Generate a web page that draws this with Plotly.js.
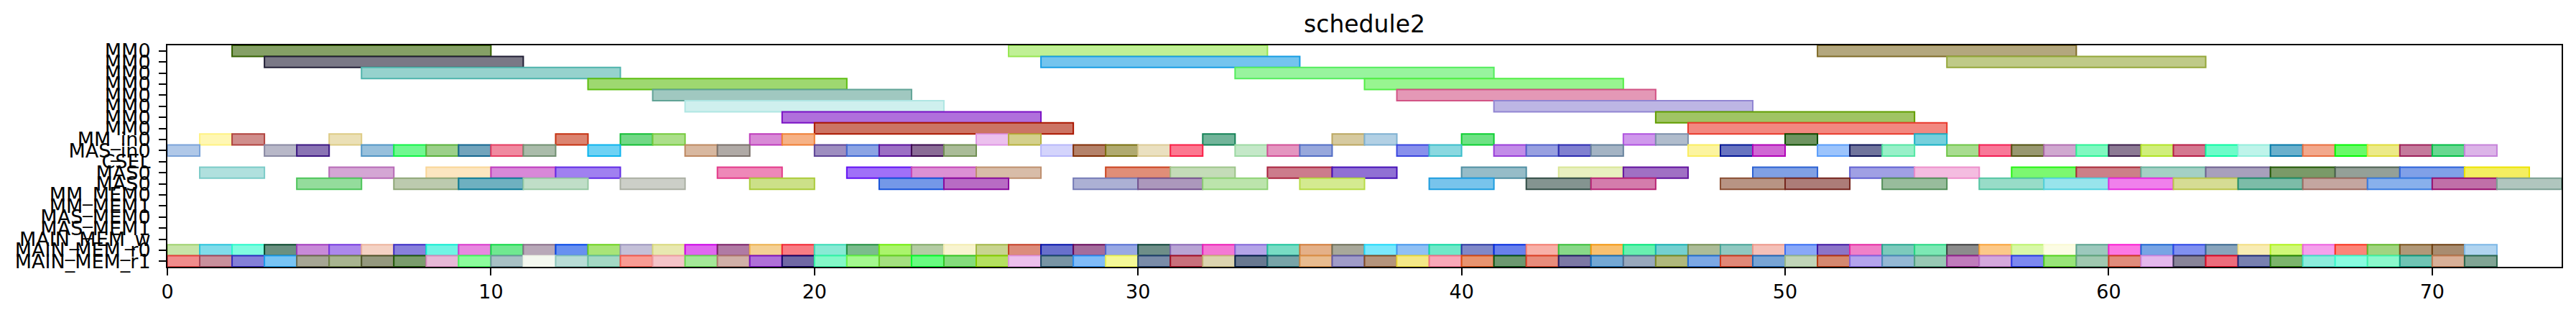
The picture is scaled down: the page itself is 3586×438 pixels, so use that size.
<!DOCTYPE html>
<html>
<head>
<meta charset="utf-8">
<script src="https://cdn.plot.ly/plotly-3.0.1.min.js"></script>
<style>html,body{margin:0;padding:0;background:#fff;}#chart{width:3586px;height:438px;}</style>
</head>
<body>
<div id="chart"></div>
<script>
// ---- row labels (top to bottom) ----
const rowLabels = ['MM0','MM0','MM0','MM0','MM0','MM0','MM0','MM0','MM_in0','MAS_in0','CSEL','MAS0','MAS0',
  'MM_MEM0','MM_MEM1','MAS_MEM0','MAS_MEM1','MAIN_MEM_w','MAIN_MEM_r0','MAIN_MEM_r1'];
const xTicks = [0,10,20,30,40,50,60,70];

// ---- MM0 tasks ----
const mm0Row   = [0,0,0, 1,1,1, 2,2, 3,3, 4,4, 5,5, 6,6, 7,7];
const mm0Start = [2,26,51, 3,27,55, 6,33, 13,37, 15,38, 16,41, 19,46, 20,47];
const mm0End   = [10,34,59, 11,35,63, 14,41, 21,45, 23,46, 24,49, 27,54, 28,55];
const mm0Color = ['#85a066','#c0f096','#b3a77e','#7a7886','#74c4ee','#bfca88','#96d2cd','#98f49e',
  '#9ed870','#98f590','#a0c8c0','#e498b6','#cff0ee','#bdb6e4','#b070dc','#a0c464','#cc7464','#f28880'];

// ---- MM_in0 (row 8) ----
const mmInStart = [1,2,5,12,14,15,18,19,25,26,32,36,37,40,45,46,50,54];
const mmInEnd   = [2,3,6,13,15,16,19,20,26,27,33,37,38,41,46,47,51,55];
const mmInColor = ['#fff7b4','#d08e8c','#ebe0b6','#dc8470','#72d886','#acdf8a','#d88ad6','#f6b286','#ecc0ee',
  '#d4d08c','#72b49a','#d6caa0','#b2d0e4','#6ee284','#cf98ec','#b0bccc','#6e9460','#76d0dc'];

// ---- MAS_in0 (row 9) ----
const masInStart = [0,3,4,6,7,8,9,10,11,13,16,17,20,21,22,23,24,27,28,29,30,31,33,34,35,38,39,41,42,43,44,
  47,48,49,51,52,53,55,56,57,58,59,60,61,62,63,64,65,66,67,68,69,70,71];
const masInEnd   = [1,4,5,7,8,9,10,11,12,14,17,18,21,22,23,24,25,28,29,30,31,32,34,35,36,39,40,42,43,44,45,
  48,49,50,52,53,54,56,57,58,59,60,61,62,63,64,65,66,67,68,69,70,71,72];
const masInColor = ['#b0c8e8','#b8b8c8','#8a74b4','#98c0dc','#70f890','#9cd08a','#72a4bc','#f08aa0','#aabcaa',
  '#6ed2f4','#d8b8a0','#b0aaa6','#9e8ec0','#8ca4e4','#9c70c4','#8a6c96','#aabc98','#d4d4fc','#b4826a','#b0aa70',
  '#eae0c0','#fc7890','#c4e8c8','#e496c0','#98a8dc','#8890ec','#8ad8e0','#c28ce8','#98a0e0','#8080d0','#a4b4c4',
  '#fcf4a0','#6874c0','#d068d4','#9cc4fc','#70749c','#98f0c8','#a8dc90','#f87898','#989870','#d0a8d0','#80f8c0',
  '#8c7a94','#d0ee7c','#d47890','#6cfcc8','#bef4ea','#6ab0cc','#f2a88c','#68fa68','#ecea88','#c47a9c','#68d890','#dcb4e8'];

// ---- MAS0 first row (row 11) ----
const mas0aStart = [1,5,8,10,12,17,21,23,25,29,31,34,36,40,43,45,49,52,54,57,59,61,63,65,67,69,71];
const mas0aEnd   = [3,7,10,12,14,19,23,25,27,31,33,36,38,42,45,47,51,54,56,59,61,63,65,67,69,71,73];
const mas0aColor = ['#b0e0de','#d4a6d4','#fce6c0','#d888d8','#a080f0','#ee88b8','#a070f8','#dc90d4','#d8bca8',
  '#e08e78','#c4dcb8','#cc7c8c','#9070d4','#96bcc8','#e8f0c0','#a070c4','#80a0e4','#a0a0e4','#f4bce0','#7cf870',
  '#cc8088','#a4d0c4','#a8a0bc','#7a9a68','#94a098','#80a0e8','#f4ee60'];

// ---- MAS0 second row (row 12) ----
const mas0bStart = [4,7,9,11,14,18,22,24,28,30,32,35,39,42,44,48,50,53,56,58,60,62,64,66,68,70,72];
const mas0bEnd   = [6,9,11,13,16,20,24,26,30,32,34,37,41,44,46,50,52,55,58,60,62,64,66,68,70,72,74];
const mas0bColor = ['#94dc9c','#bccaae','#6eb0c0','#c0dec8','#cccfc8','#cce088','#7498e8','#b86cc4','#acb0d4',
  '#ac98bc','#bce4ac','#d4ea90','#78c4ec','#849490','#d47cac','#b89484','#ac7c78','#98bc9c','#98dcc8','#98e4ec',
  '#f080ec','#d6dc94','#7cbca8','#c4a6a0','#88b0ec','#c070a8','#b0c6be'];

// ---- MAIN_MEM_r0 / r1 (rows 18, 19) ----
const memStart = [0,1,2,3,4,5,6,7,8,9,10,11,12,13,14,15,16,17,18,19,20,21,22,23,24,25,26,27,28,29,30,31,32,33,34,35,
  36,37,38,39,40,41,42,43,44,45,46,47,48,49,50,51,52,53,54,55,56,57,58,59,60,61,62,63,64,65,66,67,68,69,70,71];
const memEnd   = [1,2,3,4,5,6,7,8,9,10,11,12,13,14,15,16,17,18,19,20,21,22,23,24,25,26,27,28,29,30,31,32,33,34,35,36,
  37,38,39,40,41,42,43,44,45,46,47,48,49,50,51,52,53,54,55,56,57,58,59,60,61,62,63,64,65,66,67,68,69,70,71,72];
const r0Color = ['#c6e4a8','#80dcea','#80fce0','#6a9080','#c88ad8','#ac88ec','#f4d2c4','#8880dc','#70f4e4','#e888e0',
  '#70e890','#b8a8b8','#6890f0','#a8e478','#c4c0d8','#e8e8b0','#e068f0','#b07aa4','#f4d094','#f87c84','#88ead4',
  '#7abc8c','#aaf46c','#b4cca4','#f8f4d0','#c8d490','#dc8c7c','#6870cc','#a46c9c','#98a8e4','#6e8e88','#b8a4d4',
  '#f478d4','#b4a4e8','#78dcc4','#e4b088','#a8a89a','#7ae8fc','#90c0f4','#70e8c8','#8088c8','#6880ec','#f8b0a8',
  '#88d888','#f8c070','#68f0b0','#74d0d0','#acbc98','#90c8c0','#f4c0b8','#88a8f8','#8c74c8','#f080c8','#7ccabc',
  '#7ce8b4','#8c8c8c','#fcc888','#d8f8a8','#fcfce4','#9cc8bc','#fc78e4','#78a4e4','#8090f0','#88a4bc','#f8ecb4',
  '#d0f878','#f4a0ec','#fc8478','#a0d480','#b09878','#a88c70','#b0d4f0'];
const r1Color = ['#f08c8c','#c8909c','#8480d8','#78c4f4','#a6a694','#a8b490','#94987e','#7a9c6c','#e6b8d6','#8cfc9c',
  '#a8c0c4','#f4f8f0','#b8dcd6','#a4d8c4','#f89c94','#f4c4c8','#a4e898','#d0b0a8','#b070d8','#7068a4','#84f8c8',
  '#a4f890','#a4e080','#68fc80','#84dc7c','#b4e060','#ecc0ec','#7894a4','#80bcf8','#f4f898','#7a8ca8','#c8707c',
  '#dcd4b0','#687890','#78a4a8','#e8bc90','#a09cc8','#b4947c','#f4e888','#f8a8b8','#e89470','#6c9870','#e88c7c',
  '#7c78a4','#74a8d4','#98a8bc','#b0b87c','#7ca8e4','#e08878','#78a4d4','#c0d4b8','#d48870','#b4a4ec','#94b8d4',
  '#98c8b4','#c07cbc','#d4a8dc','#7c88f0','#98e478','#a0c8b0','#e08c7c','#e4b8ec','#888498','#ec6c7c','#7880b0',
  '#7cb46c','#8cecdc','#88fce0','#8cf8cc','#70c4b4','#d8b098','#80a494'];

// ---- drawing ----
function edgeOf(hex){ // undo a 0.6 alpha blend over white to get the stroke colour
  const v=[1,3,5].map(i=>parseInt(hex.substr(i,2),16));
  const b=v.map(c=>Math.max(0,Math.min(255,Math.round((c-102)/0.6))));
  return 'rgb('+b.join(',')+')';
}
function barTrace(rows, starts, ends, colors){
  return {type:'bar', orientation:'h', y:rows, base:starts,
    x:ends.map((e,i)=>e-starts[i]), width:1,
    marker:{color:colors, line:{color:colors.map(edgeOf), width:2}},
    hoverinfo:'skip', showlegend:false};
}
const rowOf = (arr, r) => arr.map(()=>r);
const traces = [
  barTrace(mm0Row, mm0Start, mm0End, mm0Color),
  barTrace(rowOf(mmInStart,8), mmInStart, mmInEnd, mmInColor),
  barTrace(rowOf(masInStart,9), masInStart, masInEnd, masInColor),
  barTrace(rowOf(mas0aStart,11), mas0aStart, mas0aEnd, mas0aColor),
  barTrace(rowOf(mas0bStart,12), mas0bStart, mas0bEnd, mas0bColor),
  barTrace(rowOf(memStart,18), memStart, memEnd, r0Color),
  barTrace(rowOf(memStart,19), memStart, memEnd, r1Color)
];
const font = {family:'DejaVu Sans', color:'#000'};
const layout = {
  width:3586, height:438,
  margin:{l:233, r:20, t:63, b:67, pad:0},
  paper_bgcolor:'#fff', plot_bgcolor:'#fff',
  barmode:'overlay', bargap:0,
  title:{text:'schedule2', font:Object.assign({size:33}, font), x:0.5, xref:'paper',
         y:1-33/438, yref:'container', yanchor:'middle'},
  xaxis:{range:[0,74], tickmode:'array', tickvals:xTicks, ticktext:xTicks.map(String),
    ticks:'outside', ticklen:10, tickwidth:2, tickcolor:'#000',
    showline:true, linecolor:'#000', linewidth:2, mirror:true,
    showgrid:false, zeroline:false, tickfont:Object.assign({size:27}, font)},
  yaxis:{range:[19.5,-0.5], tickmode:'array', tickvals:rowLabels.map((_,i)=>i), ticktext:rowLabels,
    ticks:'outside', ticklen:10, tickwidth:2, tickcolor:'#000', ticklabelstandoff:6,
    showline:true, linecolor:'#000', linewidth:2, mirror:true,
    showgrid:false, zeroline:false, tickfont:Object.assign({size:27}, font)},
  font:font
};
Plotly.newPlot('chart', traces, layout, {staticPlot:true, displayModeBar:false});
</script>
</body>
</html>
